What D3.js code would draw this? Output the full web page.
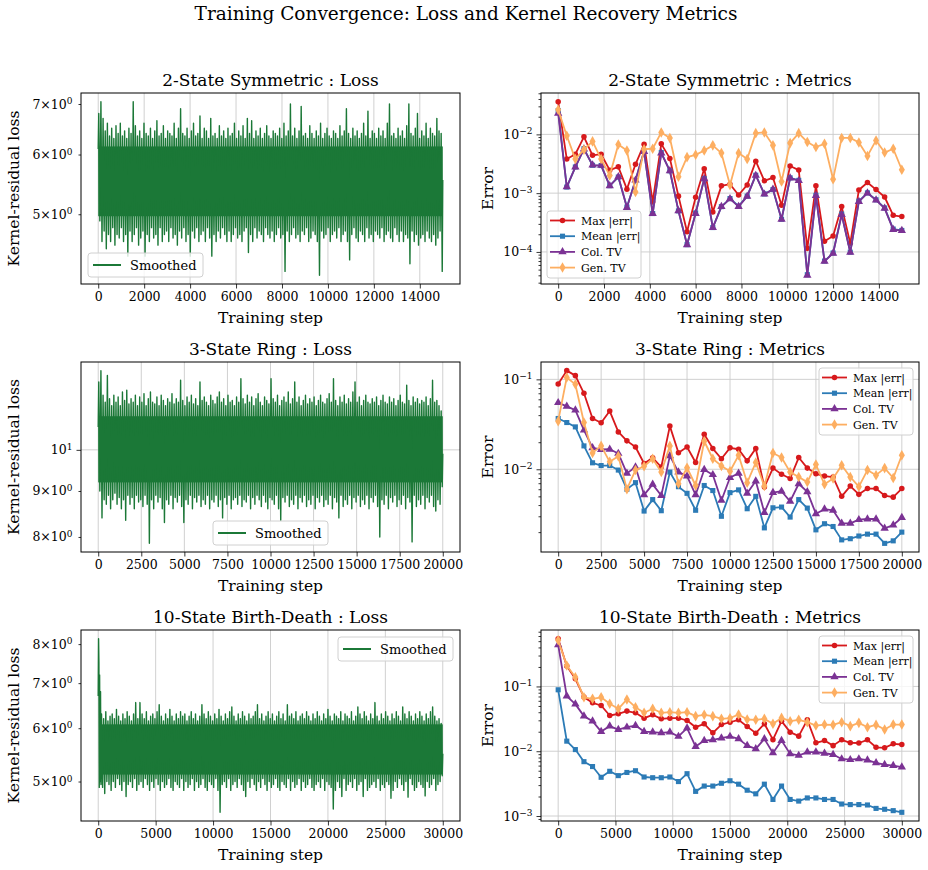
<!DOCTYPE html>
<html>
<head>
<meta charset="utf-8">
<script src="https://cdn.jsdelivr.net/npm/d3@7"></script>
<style>
  body { margin: 0; background: #fff; }
  text { font-family: "DejaVu Serif", serif; }
</style>
</head>
<body>
<svg id="chart" width="928" height="870"></svg>
<script>
// ---- data ----
const metricNames = ['Max |err|', 'Mean |err|', 'Col. TV', 'Gen. TV'];

// 2-state symmetric, eval every 375 steps
const symMax = [0.036, 0.0038, 0.0046, 0.0091, 0.0044, 0.0046, 0.00246, 0.0028, 0.00117, 0.0031, 0.0068, 0.00071, 0.0069, 0.0039, 0.00089, 0.00022, 0.00085, 0.0026, 0.00048, 0.00133, 0.00142, 0.00093, 0.00138, 0.0035, 0.00162, 0.00184, 0.00062, 0.0029, 0.00247, 0.000115, 0.00133, 0.000152, 0.000187, 0.00059, 0.00014, 0.00113, 0.00152, 0.00115, 0.00086, 0.00042, 0.0004];
const symMean = [0.0255, 0.00127, 0.00279, 0.0057, 0.00298, 0.00295, 0.00134, 0.00188, 0.00058, 0.00165, 0.0052, 0.00045, 0.0049, 0.0024, 0.0005, 0.000133, 0.00046, 0.00176, 0.00026, 0.00059, 0.00081, 0.0006, 0.00089, 0.00202, 0.00097, 0.00115, 0.00036, 0.00182, 0.00165, 0.000041, 0.00092, 0.00007, 0.000096, 0.00044, 0.000099, 0.00073, 0.00101, 0.00077, 0.00056, 0.000245, 0.000232];
const symCol = [0.0228, 0.00128, 0.00277, 0.0056, 0.003, 0.00296, 0.00133, 0.0019, 0.00057, 0.00166, 0.0051, 0.00045, 0.0048, 0.0024, 0.0005, 0.000132, 0.00045, 0.00175, 0.00026, 0.00059, 0.0008, 0.00059, 0.00088, 0.002, 0.00096, 0.00116, 0.00036, 0.0018, 0.00163, 0.00004, 0.00091, 0.000069, 0.000095, 0.00043, 0.000098, 0.00072, 0.001, 0.00076, 0.00055, 0.00024, 0.00023];
const symGen = [0.0263, 0.0095, 0.0038, 0.0055, 0.0076, 0.0038, 0.002, 0.0067, 0.0053, 0.00105, 0.0056, 0.0057, 0.0108, 0.0087, 0.0019, 0.0041, 0.0045, 0.0053, 0.0065, 0.0048, 0.00138, 0.0048, 0.0038, 0.0105, 0.0108, 0.0065, 0.00158, 0.0071, 0.0105, 0.0074, 0.0061, 0.0069, 0.00173, 0.0087, 0.0087, 0.0073, 0.0043, 0.0079, 0.0049, 0.0057, 0.0025];

// 3-state ring, eval every 500 steps
const ringMax = [0.0887, 0.125, 0.11, 0.07, 0.0367, 0.0329, 0.0444, 0.026, 0.0207, 0.0177, 0.0116, 0.0134, 0.0106, 0.0302, 0.0153, 0.0177, 0.0119, 0.0245, 0.017, 0.0131, 0.0173, 0.0167, 0.0124, 0.017, 0.00635, 0.0103, 0.0088, 0.0079, 0.0135, 0.0103, 0.0089, 0.0084, 0.0082, 0.005, 0.0065, 0.00526, 0.0061, 0.0061, 0.0051, 0.0049, 0.0061];
const ringMean = [0.0367, 0.0331, 0.0296, 0.0182, 0.0118, 0.011, 0.011, 0.0098, 0.006, 0.0071, 0.00343, 0.0046, 0.00346, 0.0093, 0.0064, 0.0054, 0.0035, 0.0066, 0.0058, 0.003, 0.0055, 0.0059, 0.00364, 0.005, 0.00223, 0.00373, 0.0038, 0.00294, 0.0046, 0.0037, 0.00212, 0.00248, 0.00231, 0.00164, 0.00169, 0.00181, 0.0019, 0.0019, 0.0015, 0.0016, 0.002];
const ringCol = [0.055, 0.05, 0.0455, 0.0272, 0.0173, 0.0166, 0.0167, 0.015, 0.009, 0.0106, 0.0052, 0.0068, 0.0051, 0.0141, 0.0093, 0.0084, 0.0052, 0.0099, 0.0087, 0.0045, 0.0081, 0.009, 0.0054, 0.0074, 0.0033, 0.0055, 0.0057, 0.0044, 0.0069, 0.0056, 0.0032, 0.0036, 0.0035, 0.0025, 0.0025, 0.00275, 0.0028, 0.0028, 0.0022, 0.0024, 0.0029];
const ringGen = [0.0343, 0.105, 0.088, 0.0331, 0.0152, 0.0182, 0.0121, 0.014, 0.006, 0.0098, 0.0108, 0.0131, 0.0093, 0.0182, 0.0069, 0.0104, 0.0066, 0.0205, 0.0131, 0.0109, 0.0095, 0.0143, 0.0071, 0.0119, 0.0065, 0.0152, 0.0135, 0.0093, 0.0082, 0.0072, 0.0113, 0.0068, 0.0079, 0.0111, 0.0082, 0.0064, 0.0098, 0.0086, 0.0103, 0.008, 0.0143];

// 10-state birth-death, eval every 750 steps
const bdMax = [0.546, 0.206, 0.131, 0.0684, 0.0559, 0.0508, 0.0356, 0.0378, 0.0416, 0.0392, 0.0324, 0.0365, 0.0316, 0.0324, 0.0324, 0.0298, 0.0235, 0.0265, 0.0192, 0.0258, 0.028, 0.0305, 0.0241, 0.019, 0.0265, 0.0151, 0.0291, 0.0197, 0.0171, 0.0305, 0.0135, 0.0146, 0.0122, 0.015, 0.0135, 0.0134, 0.015, 0.0115, 0.0113, 0.013, 0.0127];
const bdMean = [0.0888, 0.0143, 0.0106, 0.0069, 0.0058, 0.00396, 0.0049, 0.0042, 0.0047, 0.005, 0.004, 0.0039, 0.0039, 0.004, 0.0034, 0.0045, 0.0024, 0.0029, 0.0029, 0.0032, 0.0035, 0.0031, 0.0025, 0.0022, 0.0031, 0.0018, 0.0029, 0.0018, 0.0017, 0.0019, 0.0019, 0.0018, 0.0018, 0.00153, 0.0015, 0.0015, 0.00148, 0.00131, 0.00127, 0.00121, 0.00114];
const bdCol = [0.44, 0.071, 0.0533, 0.0348, 0.0291, 0.0201, 0.0244, 0.0216, 0.0235, 0.0249, 0.0201, 0.0197, 0.0192, 0.0197, 0.0169, 0.0227, 0.0118, 0.0146, 0.015, 0.0159, 0.0169, 0.0155, 0.0122, 0.0109, 0.0155, 0.0094, 0.0146, 0.0091, 0.0086, 0.0097, 0.0097, 0.0093, 0.0089, 0.0076, 0.0074, 0.0076, 0.0073, 0.0066, 0.0062, 0.006, 0.0057];
const bdGen = [0.515, 0.21, 0.139, 0.068, 0.0644, 0.068, 0.054, 0.0452, 0.063, 0.0479, 0.0392, 0.0452, 0.0392, 0.0401, 0.0392, 0.0401, 0.0348, 0.0365, 0.0348, 0.0316, 0.0324, 0.0369, 0.0309, 0.0305, 0.0316, 0.0265, 0.0327, 0.0291, 0.0305, 0.0281, 0.0249, 0.0258, 0.0255, 0.0281, 0.0244, 0.0274, 0.0235, 0.0255, 0.0216, 0.0258, 0.0258];

// loss traces: upper / lower excursions along the run, plus the solid core band
const symLossHead = [[0, 6.1]];
const symLossPeaks = [
  6.8, 7.05, 6.7, 6.45, 6.6, 6.35, 6.5, 6.3, 6.55, 6.4, 6.6, 6.35, 6.45, 6.3, 6.5, 6.4, 7.05, 6.55, 6.35, 6.45,
  6.3, 6.6, 6.4, 6.35, 6.5, 6.3, 6.45, 6.65, 6.35, 6.4, 6.55, 6.3, 6.45, 6.4, 6.35, 6.6, 6.3, 6.5, 6.9, 6.4,
  6.35, 6.5, 6.3, 6.45, 6.6, 6.35, 6.4, 6.75, 6.3, 6.5, 6.45, 6.3, 6.7, 6.35, 6.4, 6.3, 6.55, 6.35, 6.45, 6.3,
  6.5, 6.35, 6.4, 6.6, 6.3, 6.45, 6.35, 6.55, 6.3, 6.7, 6.4, 6.65, 6.3, 6.45, 6.35, 6.5, 6.3, 6.4, 6.55, 6.35,
  6.3, 6.45, 6.4, 6.35, 6.5, 6.3, 6.6, 6.35, 6.45, 7.0, 6.35, 6.5, 6.3, 6.45, 6.95, 6.35, 6.4, 6.3, 6.55, 6.4,
  6.3, 6.45, 6.35, 6.6, 6.3, 6.4, 6.5, 6.35, 6.3, 6.45, 6.4, 6.3, 6.55, 6.35, 6.45, 6.9, 6.4, 6.3, 6.5, 6.35,
  6.45, 6.3, 6.4, 6.6, 6.35, 6.85, 6.3, 6.45, 6.4, 6.3, 6.5, 6.35, 6.45, 6.3, 6.6, 7.0, 6.35, 6.4, 6.3, 6.5,
  6.35, 6.45, 6.3, 6.55, 7.0, 6.4, 6.35, 6.5, 6.8, 6.3, 6.45, 6.35, 6.6, 6.3, 6.5, 6.4, 6.35, 6.7, 6.45, 6.4];
const symLossDips = [
  4.9, 4.6, 4.75, 4.5, 4.7, 4.6, 4.8, 4.55, 4.7, 4.65, 4.8, 4.6, 4.7, 4.4, 4.75, 4.6, 4.7, 4.8, 4.55, 4.65,
  4.75, 4.4, 4.7, 4.6, 4.8, 4.65, 4.7, 4.55, 4.8, 4.6, 4.7, 4.75, 4.6, 4.8, 4.65, 4.7, 4.55, 4.75, 4.65, 4.8,
  4.6, 4.7, 4.4, 4.75, 4.65, 4.8, 4.6, 4.7, 4.75, 4.6, 4.8, 4.65, 4.4, 4.7, 4.6, 4.75, 4.65, 4.8, 4.7, 4.6,
  4.75, 4.6, 4.7, 4.8, 4.65, 4.7, 4.6, 4.75, 4.8, 4.45, 4.7, 4.6, 4.8, 4.65, 4.75, 4.7, 4.6, 4.8, 4.7, 4.65,
  4.75, 4.6, 4.7, 4.8, 4.65, 4.7, 4.2, 4.75, 4.6, 4.7, 4.8, 4.65, 4.7, 4.6, 4.75, 4.7, 4.8, 4.6, 4.65, 4.75,
  4.7, 4.6, 4.15, 4.75, 4.65, 4.7, 4.8, 4.6, 4.7, 4.75, 4.65, 4.8, 4.6, 4.7, 4.75, 4.6, 4.35, 4.7, 4.8, 4.65,
  4.6, 4.75, 4.7, 4.6, 4.8, 4.65, 4.7, 4.6, 4.75, 4.7, 4.65, 4.8, 4.6, 4.7, 4.75, 4.65, 4.6, 4.8, 4.7, 4.6,
  4.75, 4.6, 4.7, 4.65, 4.3, 4.75, 4.6, 4.7, 4.55, 4.65, 4.7, 4.6, 4.75, 4.65, 4.6, 4.7, 4.55, 4.65, 4.75, 4.2];
const symLossCore = [4.97, 6.15];
const symLossEnd = 5.55;

const ringLossHead = [[0, 10.6]];
const ringLossPeaks = [
  11.9, 12.25, 11.5, 11.3, 12.1, 11.4, 11.2, 11.5, 11.3, 11.45, 11.2, 11.6, 11.35, 11.65, 11.25, 11.4, 11.3, 11.5, 11.2, 11.45,
  11.3, 11.55, 11.2, 11.4, 11.6, 11.3, 11.25, 11.45, 11.2, 11.5, 11.35, 11.2, 11.4, 11.3, 11.55, 11.25, 11.4, 11.3, 11.95, 11.35,
  11.2, 11.45, 11.3, 11.5, 11.25, 11.4, 11.2, 11.9, 11.35, 11.45, 11.3, 11.2, 11.5, 11.35, 11.25, 11.45, 11.6, 11.3, 11.4, 11.2,
  11.5, 11.3, 11.35, 11.2, 11.45, 11.3, 12.0, 11.4, 11.25, 11.5, 11.3, 11.45, 11.2, 11.4, 11.55, 11.3, 11.2, 11.45, 11.35, 11.25,
  12.0, 11.4, 11.3, 11.5, 11.2, 11.35, 11.45, 11.3, 11.6, 11.25, 11.4, 11.9, 11.3, 11.45, 11.2, 11.35, 11.5, 11.25, 11.4, 11.3,
  11.45, 11.2, 11.35, 11.5, 11.3, 11.25, 11.4, 11.55, 11.3, 12.0, 11.35, 11.2, 11.45, 11.3, 11.5, 11.25, 11.4, 11.3, 11.6, 11.9,
  11.3, 11.45, 11.2, 11.35, 11.5, 11.3, 11.25, 11.4, 11.3, 11.45, 11.2, 11.35, 11.5, 11.3, 11.25, 11.45, 11.3, 11.4, 11.2, 11.35,
  11.5, 11.3, 11.25, 11.8, 11.35, 11.2, 11.45, 11.3, 11.4, 11.25, 11.35, 11.3, 11.45, 11.2, 11.4, 11.95, 11.3, 11.35, 11.2, 11.05];
const ringLossDips = [
  9.0, 8.4, 8.8, 8.7, 8.9, 8.6, 8.8, 8.95, 8.7, 8.85, 8.6, 8.8, 8.35, 8.9, 8.7, 8.85, 8.6, 8.9, 8.75, 8.8,
  8.65, 8.9, 8.7, 7.87, 8.8, 8.6, 8.9, 8.75, 8.85, 8.6, 8.3, 8.8, 8.7, 8.9, 8.6, 8.85, 8.75, 8.9, 8.65, 8.3,
  8.8, 8.7, 8.9, 8.6, 8.85, 8.75, 8.9, 8.65, 8.8, 8.7, 8.9, 8.6, 8.8, 8.75, 8.9, 8.65, 8.8, 8.4, 8.85, 8.7,
  8.9, 8.6, 8.8, 8.85, 8.7, 8.9, 8.65, 8.8, 8.75, 8.9, 8.6, 8.85, 8.7, 8.9, 8.8, 8.65, 8.9, 8.75, 8.6, 8.85,
  8.8, 8.7, 8.9, 8.6, 8.35, 8.85, 8.75, 8.9, 8.65, 8.8, 8.7, 8.9, 8.6, 8.85, 8.75, 8.9, 8.65, 8.8, 8.7, 8.9,
  8.6, 8.85, 8.75, 8.9, 8.65, 8.8, 8.7, 8.9, 8.6, 8.85, 8.75, 8.4, 8.9, 8.65, 8.8, 8.7, 8.9, 8.6, 8.85, 8.75,
  8.9, 8.65, 8.8, 8.7, 8.9, 8.6, 8.85, 8.75, 8.9, 8.65, 8.0, 8.8, 8.7, 8.9, 8.6, 8.85, 8.75, 8.9, 8.65, 8.8,
  8.7, 8.9, 8.6, 8.85, 8.75, 7.9, 8.9, 8.65, 8.8, 8.7, 8.9, 8.6, 8.85, 8.75, 8.9, 8.65, 8.55, 8.8, 8.7, 9.1];
const ringLossCore = [9.2, 10.9];
const ringLossEnd = 9.9;

const bdLossHead = [[0, 6.7], [30, 8.15], [60, 7.5], [90, 4.9], [120, 7.2], [160, 5.0], [200, 6.8], [240, 4.95]];
const bdLossPeaks = [
  6.3, 6.2, 6.35, 6.15, 6.25, 6.3, 6.2, 6.4, 6.25, 6.15, 6.3, 6.2, 6.35, 6.25, 6.15, 6.3, 6.55, 6.2, 6.55, 6.3,
  6.2, 6.35, 6.15, 6.25, 6.3, 6.2, 6.35, 6.5, 6.25, 6.15, 6.3, 6.2, 6.4, 6.25, 6.15, 6.3, 6.2, 6.35, 6.25, 6.3,
  6.15, 6.25, 6.35, 6.2, 6.3, 6.15, 6.25, 6.5, 6.3, 6.2, 6.35, 6.25, 6.15, 6.3, 6.2, 6.4, 6.25, 6.15, 6.3, 6.2,
  6.35, 6.45, 6.25, 6.15, 6.3, 6.2, 6.35, 6.25, 6.15, 6.3, 6.2, 6.25, 6.35, 6.5, 6.2, 6.3, 6.15, 6.25, 6.35, 6.2,
  6.3, 6.15, 6.25, 6.35, 6.2, 6.3, 6.15, 6.5, 6.25, 6.3, 6.2, 6.35, 6.15, 6.25, 6.3, 6.2, 6.35, 6.25, 6.15, 6.3,
  6.2, 6.35, 6.25, 6.15, 6.3, 6.2, 6.4, 6.25, 6.15, 6.3, 6.25, 6.2, 6.35, 6.15, 6.3, 6.25, 6.2, 6.35, 6.15, 6.25,
  6.45, 6.3, 6.2, 6.35, 6.25, 6.15, 6.3, 6.2, 6.55, 6.25, 6.15, 6.3, 6.2, 6.35, 6.25, 6.15, 6.3, 6.2, 6.35, 6.25,
  6.15, 6.45, 6.3, 6.2, 6.35, 6.25, 6.15, 6.3, 6.2, 6.35, 6.25, 6.15, 6.3, 6.2, 6.35, 6.45, 6.25, 6.15, 6.2, 6.1];
const bdLossDips = [
  4.9, 4.8, 5.0, 4.95, 4.85, 5.0, 4.9, 5.05, 4.95, 4.85, 5.0, 4.75, 4.95, 5.0, 4.9, 5.05, 4.85, 4.95, 5.0, 4.9,
  5.05, 4.95, 4.85, 5.0, 4.9, 5.05, 4.95, 4.85, 5.0, 4.9, 4.95, 5.05, 4.9, 4.85, 5.0, 4.95, 4.9, 5.05, 4.85, 5.0,
  4.9, 4.95, 5.05, 4.85, 5.0, 4.9, 4.95, 5.05, 4.9, 4.85, 5.0, 4.95, 4.9, 5.05, 4.85, 4.5, 4.95, 5.0, 4.9, 5.05,
  4.85, 4.95, 5.0, 4.9, 5.05, 4.95, 4.85, 4.75, 5.0, 4.9, 5.05, 4.95, 4.85, 5.0, 4.9, 5.05, 4.95, 4.85, 5.0, 4.9,
  4.95, 5.05, 4.9, 4.85, 5.0, 4.95, 4.9, 5.05, 4.85, 5.0, 4.9, 4.95, 5.05, 4.85, 5.0, 4.9, 4.95, 5.05, 4.9, 4.85,
  4.95, 5.0, 4.9, 5.05, 4.85, 5.0, 4.95, 4.9, 4.55, 4.85, 5.0, 4.9, 4.75, 5.05, 4.85, 4.95, 5.0, 4.9, 5.05, 4.85,
  4.95, 5.0, 4.75, 5.05, 4.85, 4.9, 4.95, 5.0, 4.9, 5.05, 4.85, 4.95, 4.9, 5.0, 4.95, 4.72, 4.85, 5.0, 4.9, 5.05,
  4.95, 4.85, 5.0, 4.74, 5.05, 4.95, 4.85, 4.9, 5.0, 4.95, 4.9, 4.76, 5.0, 4.9, 4.95, 5.05, 4.85, 4.95, 5.0, 5.1];
const bdLossCore = [5.12, 6.08];
const bdLossEnd = 5.5;

const symXTicks = d3.range(0, 14001, 2000);
const ringXTicks = d3.range(0, 20001, 2500);
const bdXTicks = d3.range(0, 30001, 5000);

// ---- drawing ----
const svg = d3.select('#chart');
const green = '#1b7837';
const metricColors = ['#d7191c', '#2c7bb6', '#7b3294', '#fdae61'];
const metricSymbols = [d3.symbolCircle, d3.symbolSquare, d3.symbolTriangle, d3.symbolDiamond];
const metricSizes = [24, 26, 30, 32];

const colX = [[81, 460], [541, 919]];
const rowY = [[93, 284], [362, 552], [630, 821]];

const panels = [
  { row: 0, name: '2-State Symmetric', maxStep: 15000, xticks: symXTicks, metrics: [symMax, symMean, symCol, symGen],
    loss: { head: symLossHead, peaks: symLossPeaks, dips: symLossDips, core: symLossCore, end: symLossEnd },
    lossLegend: 'lower left', metricLegend: 'lower left' },
  { row: 1, name: '3-State Ring', maxStep: 20000, xticks: ringXTicks, metrics: [ringMax, ringMean, ringCol, ringGen],
    loss: { head: ringLossHead, peaks: ringLossPeaks, dips: ringLossDips, core: ringLossCore, end: ringLossEnd },
    lossLegend: 'lower center', metricLegend: 'upper right' },
  { row: 2, name: '10-State Birth-Death', maxStep: 30000, xticks: bdXTicks, metrics: [bdMax, bdMean, bdCol, bdGen],
    loss: { head: bdLossHead, peaks: bdLossPeaks, dips: bdLossDips, core: bdLossCore, end: bdLossEnd },
    lossLegend: 'upper right', metricLegend: 'upper right' },
];

const padLin = ([a, b]) => [a - 0.05 * (b - a), b + 0.05 * (b - a)];
const padLog = ([a, b]) => {
  const la = Math.log10(a), lb = Math.log10(b), m = 0.05 * (lb - la);
  return [Math.pow(10, la - m), Math.pow(10, lb + m)];
};

function logLabel(v) {
  const l = Math.log10(v);
  const e = Math.round(l);
  if (Math.abs(l - e) < 1e-6) return '10^' + String(e).replace('-', '\u2212');
  const f = Math.floor(l);
  const c = Math.round(v / Math.pow(10, f));
  return c + '\u00d710^' + String(f).replace('-', '\u2212');
}

function supText(sel) {
  sel.each(function () {
    const t = d3.select(this);
    const s = t.text();
    if (!s.includes('^')) return;
    const [base, exp] = s.split('^');
    t.text(null);
    t.append('tspan').text(base);
    t.append('tspan').attr('dy', '-0.5em').attr('font-size', '0.72em').text(exp);
  });
}

function drawAxes(g, x, y, xticks, box) {
  const [x0, x1, y0, y1] = box;
  const [lo, hi] = y.domain();
  const majors = [], minors = [];
  for (let e = Math.floor(Math.log10(lo)); e <= Math.ceil(Math.log10(hi)); e++) {
    for (let k = 1; k <= 9; k++) {
      const v = +(k * Math.pow(10, e)).toPrecision(6);
      if (v < lo || v > hi) continue;
      (k === 1 ? majors : minors).push(v);
    }
  }
  const labelMinor = Math.log10(hi / lo) <= 0.4;

  // grid
  const grid = g.append('g').attr('stroke', '#cbcbcb').attr('stroke-width', 0.9);
  xticks.forEach(t => grid.append('line').attr('x1', x(t)).attr('x2', x(t)).attr('y1', y0).attr('y2', y1));
  majors.forEach(t => grid.append('line').attr('x1', x0).attr('x2', x1).attr('y1', y(t)).attr('y2', y(t)));

  const xa = g.append('g').attr('transform', `translate(0,${y1})`)
    .call(d3.axisBottom(x).tickValues(xticks).tickSize(4.5).tickPadding(4).tickFormat(d3.format('d')));
  const ya = g.append('g').attr('transform', `translate(${x0},0)`)
    .call(d3.axisLeft(y).tickValues(majors).tickSize(4.5).tickPadding(4).tickFormat(logLabel));
  const ym = g.append('g').attr('transform', `translate(${x0},0)`)
    .call(d3.axisLeft(y).tickValues(minors).tickSize(2.5).tickPadding(6).tickFormat(d => labelMinor ? logLabel(d) : ''));
  [xa, ya, ym].forEach(a => {
    a.select('.domain').remove();
    a.selectAll('text').attr('font-family', '"DejaVu Serif", serif').attr('font-size', 12.5).attr('fill', '#000');
    a.selectAll('line').attr('stroke', '#000').attr('stroke-width', 0.8);
  });
  ya.selectAll('text').call(supText);
  ym.selectAll('text').call(supText);
}

function frame(g, box) {
  const [x0, x1, y0, y1] = box;
  g.append('rect').attr('x', x0).attr('y', y0).attr('width', x1 - x0).attr('height', y1 - y0)
    .attr('fill', 'none').attr('stroke', '#000').attr('stroke-width', 1);
}

function labels(g, box, title, ylab, ylabX) {
  const [x0, x1, y0, y1] = box;
  g.append('text').attr('x', (x0 + x1) / 2).attr('y', y0 - 7).attr('text-anchor', 'middle')
    .attr('font-size', 17).text(title);
  g.append('text').attr('x', (x0 + x1) / 2).attr('y', y1 + 39).attr('text-anchor', 'middle')
    .attr('font-size', 15.5).text('Training step');
  g.append('text').attr('transform', `translate(${x0 - ylabX},${(y0 + y1) / 2}) rotate(-90)`)
    .attr('text-anchor', 'middle').attr('font-size', 15.5).text(ylab);
}

function legendBox(g, loc, box, w, h, pad) {
  const [x0, x1, y0, y1] = box;
  let bx = x0 + pad, by = y1 - pad - h;
  if (loc === 'upper right') { bx = x1 - pad - w; by = y0 + pad; }
  if (loc === 'lower center') { bx = (x0 + x1) / 2 - w / 2; }
  g.append('rect').attr('x', bx).attr('y', by).attr('width', w).attr('height', h).attr('rx', 3)
    .attr('fill', '#fff').attr('fill-opacity', 0.8).attr('stroke', '#d0d0d0').attr('stroke-width', 1);
  return [bx, by];
}

function drawLoss(p) {
  const box = [colX[0][0], colX[0][1], rowY[p.row][0], rowY[p.row][1]];
  const g = svg.append('g');
  const L = p.loss;
  const allVals = L.peaks.concat(L.dips, L.head.map(d => d[1]), [L.end]);
  const x = d3.scaleLinear().domain(padLin([0, p.maxStep])).range([box[0], box[1]]);
  const y = d3.scaleLog().domain(padLog(d3.extent(allVals))).range([box[3], box[2]]);
  drawAxes(g, x, y, p.xticks, box);

  const start = L.head[L.head.length - 1][0];
  const idx = d3.scaleLinear().domain([0, L.peaks.length]).range([start, p.maxStep]);
  const pts = L.head.slice();
  L.peaks.forEach((v, i) => {
    pts.push([idx(i + 0.25), v]);
    pts.push([idx(i + 0.75), L.dips[i]]);
  });
  pts.push([p.maxStep, L.end]);

  g.append('rect').attr('x', x(start)).attr('width', x(p.maxStep) - x(start))
    .attr('y', y(L.core[1])).attr('height', y(L.core[0]) - y(L.core[1])).attr('fill', green);
  g.append('path').attr('d', d3.line().x(d => x(d[0])).y(d => y(d[1]))(pts))
    .attr('fill', 'none').attr('stroke', green).attr('stroke-width', 1.4).attr('stroke-linejoin', 'round');

  frame(g, box);
  labels(g, box, `${p.name} : Loss`, 'Kernel-residual loss', 62);

  const [bx, by] = legendBox(g, p.lossLegend, box, 115, 24, 7);
  g.append('line').attr('x1', bx + 5).attr('x2', bx + 33).attr('y1', by + 12).attr('y2', by + 12)
    .attr('stroke', green).attr('stroke-width', 2);
  g.append('text').attr('x', bx + 42).attr('y', by + 16.5).attr('font-size', 13).text('Smoothed');
}

function drawMetrics(p) {
  const box = [colX[1][0], colX[1][1], rowY[p.row][0], rowY[p.row][1]];
  const g = svg.append('g');
  const steps = d3.range(0, p.maxStep + 1, p.maxStep / (p.metrics[0].length - 1));
  const allVals = [].concat(...p.metrics);
  const x = d3.scaleLinear().domain(padLin([0, p.maxStep])).range([box[0], box[1]]);
  const y = d3.scaleLog().domain(padLog(d3.extent(allVals))).range([box[3], box[2]]);
  drawAxes(g, x, y, p.xticks, box);

  const line = d3.line().x((d, i) => x(steps[i])).y(d => y(d));
  p.metrics.forEach((vals, k) => {
    g.append('path').attr('d', line(vals)).attr('fill', 'none').attr('stroke', metricColors[k])
      .attr('stroke-width', 1.8).attr('stroke-linejoin', 'round');
    const sym = d3.symbol().type(metricSymbols[k]).size(metricSizes[k]);
    g.selectAll(null).data(vals).join('path')
      .attr('transform', (d, i) => `translate(${x(steps[i])},${y(d)})`)
      .attr('d', sym).attr('fill', metricColors[k]);
  });

  frame(g, box);
  labels(g, box, `${p.name} : Metrics`, 'Error', 48);

  const [bx, by] = legendBox(g, p.metricLegend, box, 94, 67, 6);
  metricNames.forEach((name, k) => {
    const cy = by + 9.5 + k * 15.7;
    g.append('line').attr('x1', bx + 3).attr('x2', bx + 28).attr('y1', cy).attr('y2', cy)
      .attr('stroke', metricColors[k]).attr('stroke-width', 1.8);
    g.append('path').attr('transform', `translate(${bx + 15.5},${cy})`)
      .attr('d', d3.symbol().type(metricSymbols[k]).size(metricSizes[k])).attr('fill', metricColors[k]);
    g.append('text').attr('x', bx + 34).attr('y', cy + 4).attr('font-size', 11).text(name);
  });
}

panels.forEach(p => { drawLoss(p); drawMetrics(p); });

svg.append('text').attr('x', 466).attr('y', 20).attr('text-anchor', 'middle')
  .attr('font-size', 18.5).text('Training Convergence: Loss and Kernel Recovery Metrics');
</script>
</body>
</html>
